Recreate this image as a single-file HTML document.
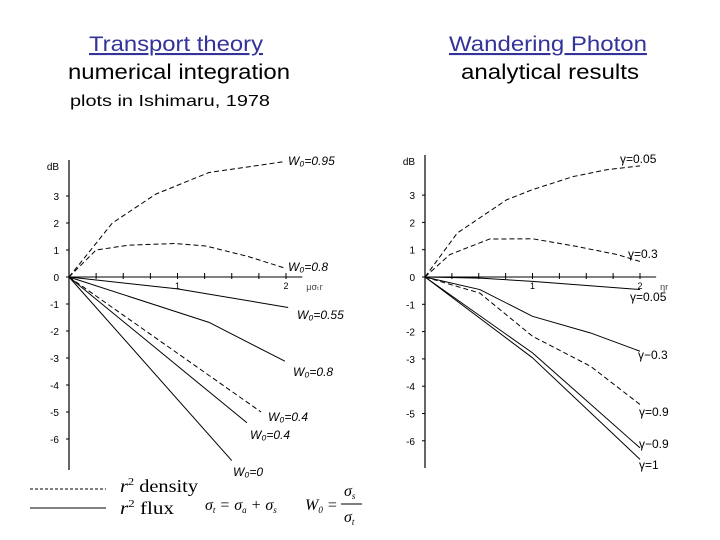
<!DOCTYPE html>
<html><head><meta charset="utf-8"><style>
body{margin:0;background:#fff;width:720px;height:540px;overflow:hidden}
svg{display:block;font-family:"Liberation Sans",sans-serif}
</style></head><body>
<svg id="s" width="720" height="540" viewBox="0 0 720 540">
<text x="89" y="51" font-size="21" fill="#33339a" textLength="174" lengthAdjust="spacingAndGlyphs" text-decoration="underline">Transport theory</text>
<text x="68" y="79" font-size="21" textLength="222" lengthAdjust="spacingAndGlyphs">numerical integration</text>
<text x="70" y="106" font-size="16" textLength="200" lengthAdjust="spacingAndGlyphs">plots in Ishimaru, 1978</text>
<text x="449" y="51" font-size="21" fill="#33339a" textLength="198" lengthAdjust="spacingAndGlyphs" text-decoration="underline">Wandering Photon</text>
<text x="461" y="79" font-size="21" textLength="178" lengthAdjust="spacingAndGlyphs">analytical results</text>
<g id="L"></g>
<g id="R"></g>
<g>
<line x1="30" y1="489" x2="106" y2="489" stroke="#000" stroke-dasharray="3,2"/>
<line x1="30" y1="508" x2="106" y2="508" stroke="#000"/>
<text x="120" y="492" font-family="Liberation Serif,serif" font-size="18" textLength="78" lengthAdjust="spacingAndGlyphs"><tspan font-style="italic">r</tspan><tspan font-size="11" dy="-7">2</tspan><tspan dy="7"> density</tspan></text>
<text x="120" y="514" font-family="Liberation Serif,serif" font-size="18" textLength="54" lengthAdjust="spacingAndGlyphs"><tspan font-style="italic">r</tspan><tspan font-size="11" dy="-7">2</tspan><tspan dy="7"> flux</tspan></text>
</g>
<g font-family="Liberation Serif,serif" font-style="italic" font-size="16">
<text x="205" y="510">σ<tspan font-size="9" dy="3">t</tspan><tspan dy="-3"> = σ</tspan><tspan font-size="9" dy="3">a</tspan><tspan dy="-3"> + σ</tspan><tspan font-size="9" dy="3">s</tspan></text>
<text x="305" y="510">W<tspan font-size="9" dy="3">0</tspan><tspan dy="-3"> =</tspan></text>
<text x="344" y="496">σ<tspan font-size="9" dy="3">s</tspan></text>
<line x1="341" y1="504" x2="362" y2="504" stroke="#000"/>
<text x="344" y="522">σ<tspan font-size="9" dy="3">t</tspan></text>
</g>
</svg>
<script>
// left chart data
const lX=[[0,0.4,0.8,1.29,1.98],[0,0.25,0.55,0.98,1.26,1.65,1.99],[0,1,2.02],[0,1.29,1.99],[0,1.77],[0,1.64],[0,1.5]];
const lY=[[0,2.0,3.07,3.87,4.27],[0,1.0,1.18,1.24,1.15,0.76,0.33],[0,-0.44,-1.13],[0,-1.68,-3.12],[0,-5.0],[0,-5.4],[0,-6.8]];
const lDash=[1,1,0,0,1,0,0];
const lLabels=["W₀=0.95","W₀=0.8","W₀=0.55","W₀=0.8","W₀=0.4","W₀=0.4","W₀=0"];
// right chart data
const rX=[[0,0.3,0.76,1,1.38,1.69,2],[0,0.23,0.6,1,1.41,1.79,2],[0,0.51,1,2],[0,0.51,1,1.54,2],[0,0.51,1,1.54,2],[0,1,2],[0,1,2]];
const rY=[[0,1.61,2.83,3.2,3.68,3.93,4.07],[0,0.82,1.39,1.4,1.12,0.82,0.57],[0,-0.04,-0.16,-0.46],[0,-0.46,-1.44,-2.05,-2.72],[0,-0.59,-2.17,-3.27,-4.67],[0,-2.78,-6.26],[0,-2.96,-6.68]];
const rDash=[1,1,0,0,1,0,0];
const rLabels=["γ=0.05","γ=0.3","γ=0.05","γ−0.3","γ=0.9","γ−0.9","γ=1"];
const yTicks=[3,2,1,0,-1,-2,-3,-4,-5,-6];
const xTicks=[1,2];
// label layout (pixel positions, not data)
const lLabelPos=[[288,165],[288,271],[297,319],[293,376],[268,421],[250,439],[233,476]];
const rLabelPos=[[620,163],[628,258],[630,301],[638,359],[639,416],[639,448],[639,469]];
const NS="http://www.w3.org/2000/svg";
function mk(p,t,a){const e=document.createElementNS(NS,t);for(const k in a)e.setAttribute(k,a[k]);p.appendChild(e);return e;}
function chart(g,ox,oy,ux,uy,top,bot,X,Y,D,labels,xl,pos,italic){
  const sx=v=>ox+v*ux, sy=v=>oy-v*uy;
  const ax=mk(g,'line',{x1:ox,y1:top,x2:ox,y2:bot,stroke:'#000','stroke-width':1.2});
  
  const xa=mk(g,'line',{x1:ox,y1:oy,x2:sx(2.15),y2:oy,stroke:'#000','stroke-width':1});
  
  for(let i=1;i<=8;i++){const t=mk(g,'line',{x1:sx(i*0.25),y1:oy-4,x2:sx(i*0.25),y2:oy+2,stroke:'#000'});}
  xTicks.forEach(v=>{const t=mk(g,'text',{x:sx(v),y:oy+12,'font-size':9,'text-anchor':'middle'});t.textContent=v;});
  const xt=mk(g,'text',{x:sx(2.15)+4,y:oy+13,'font-size':9,fill:'#444'});xt.textContent=xl;
  yTicks.forEach(v=>{const t=mk(g,'text',{x:ox-10,y:sy(v)+4,'font-size':10,'text-anchor':'end'});t.textContent=v;
    const k=mk(g,'line',{x1:ox-3,y1:sy(v),x2:ox,y2:sy(v),stroke:'#000'});});
  const yt=mk(g,'text',{x:ox-16,y:top+10,'font-size':10,'text-anchor':'middle'});yt.textContent='dB';
  X.forEach((xs,i)=>{
    const pts=xs.map((x,j)=>sx(x)+','+sy(Y[i][j])).join(' ');
    const a={points:pts,fill:'none',stroke:'#000','stroke-width':1,'stroke-linejoin':'round'};
    if(D[i])a['stroke-dasharray']='5,3';
    const pl=mk(g,'polyline',a);
    
    
    const t=mk(g,'text',{x:pos[i][0],y:pos[i][1],'font-size':12,'font-style':italic?'italic':'normal'});
    t.textContent=labels[i];
    
    
  });
}
chart(document.getElementById('L'),69,277,108.5,27,160,470,lX,lY,lDash,lLabels,'μσ\u209Cr',lLabelPos,true);
chart(document.getElementById('R'),425,277,107.5,27.3,155,468,rX,rY,rDash,rLabels,'ηr',rLabelPos,false);
</script>
</body></html>
